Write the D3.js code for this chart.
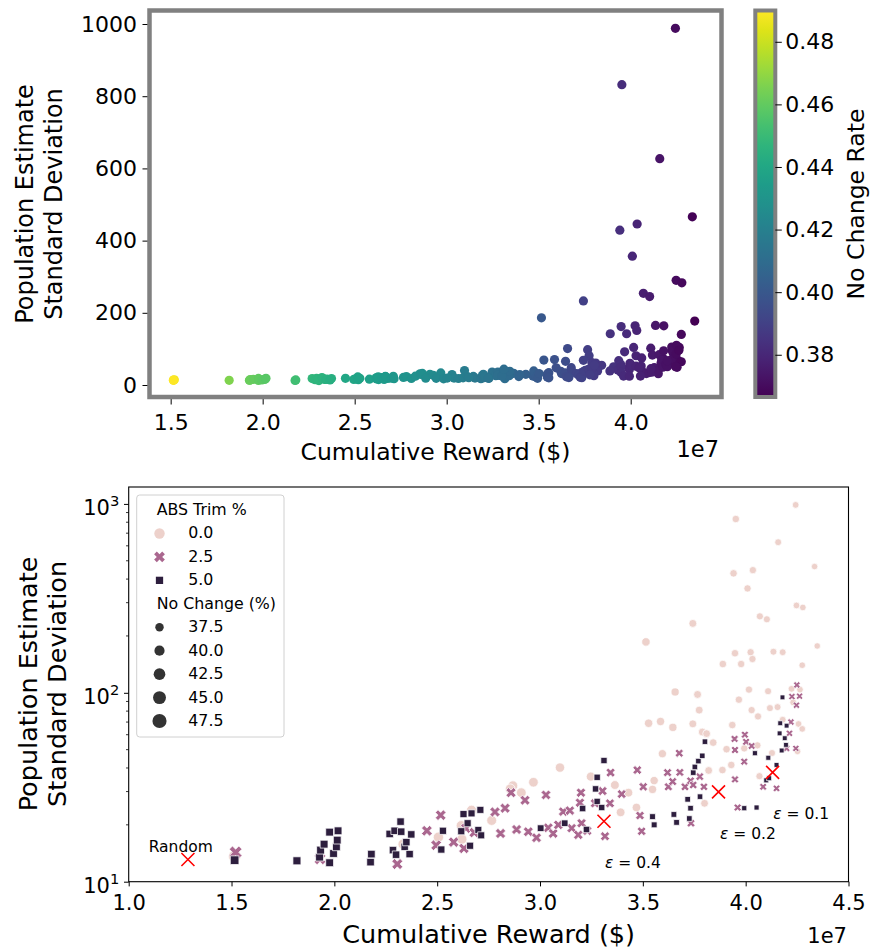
<!DOCTYPE html>
<html>
<head>
<meta charset="utf-8">
<script src="https://cdn.jsdelivr.net/npm/d3@7"></script>
<style>
  body { margin: 0; background: #fff; }
  svg { display: block; font-family: "DejaVu Sans", sans-serif; }
</style>
</head>
<body>
<div id="chart"></div>
<script>
// [cumulative reward (1e7 $), population estimate std, no change rate]
const trim0 = [
  [4.243, 988, 0.370], [3.952, 832, 0.382], [4.158, 627, 0.373], [4.335, 466, 0.367],
  [3.941, 429, 0.383], [4.035, 446, 0.379], [4.009, 357, 0.380], [4.247, 290, 0.370],
  [4.278, 283, 0.369], [4.069, 254, 0.377], [4.103, 245, 0.376], [3.743, 233, 0.390],
  [3.515, 186, 0.400], [4.348, 177, 0.3665], [3.948, 162, 0.382], [4.024, 164, 0.379],
  [4.135, 165, 0.374], [4.18, 164, 0.372], [3.889, 142, 0.384], [3.978, 142, 0.381],
  [4.033, 151, 0.379], [4.275, 140, 0.369], [3.657, 101, 0.394], [3.766, 98, 0.389],
  [4.016, 104, 0.380], [4.109, 102, 0.376], [3.967, 92, 0.381], [4.223, 105, 0.371],
  [4.264, 104, 0.369], [3.774, 81, 0.389], [4.029, 81, 0.379], [4.118, 83, 0.375],
  [4.155, 84, 0.374], [4.06, 75, 0.378], [4.231, 89, 0.371], [3.528, 69, 0.399],
  [3.586, 70.5, 0.397], [3.646, 65.6, 0.395], [3.743, 68.5, 0.390], [3.935, 67.5, 0.383],
  [3.789, 62, 0.388], [3.81, 60.8, 0.387], [3.842, 54.5, 0.386], [3.907, 50.3, 0.384],
  [3.93, 41.5, 0.383], [3.993, 50.8, 0.380], [4.057, 52.7, 0.378], [4.128, 48, 0.375],
  [4.067, 36.2, 0.377], [4.18, 72, 0.372], [4.257, 68.4, 0.370], [4.275, 64.4, 0.369],
  [4.252, 49, 0.370], [3.595, 47.6, 0.396], [3.555, 34.3, 0.398], [3.547, 30.8, 0.398],
  [3.469, 24.7, 0.402], [3.392, 23.3, 0.405], [3.43, 29.6, 0.404], [3.364, 32.5, 0.407],
  [3.80, 26, 0.388], [3.82, 38.8, 0.387], [3.887, 39, 0.384], [3.247, 36, 0.412],
  [3.097, 40.2, 0.418], [2.968, 33.6, 0.424], [2.909, 29.6, 0.426], [2.868, 32.2, 0.427],
  [2.855, 31, 0.428], [2.765, 21.1, 0.430], [2.667, 23.9, 0.433], [2.617, 19.8, 0.435],
  [2.62, 16.8, 0.435], [2.506, 17.2, 0.438], [2.335, 15.8, 0.445], [1.515, 13.6, 0.488]
];
const trim25 = [
  [1.52, 14.3, 0.488], [1.93, 13.2, 0.461], [2.306, 12.4, 0.446], [2.45, 18.6, 0.440],
  [2.495, 15.6, 0.439], [2.517, 22.5, 0.438], [2.58, 16.2, 0.436], [2.63, 15, 0.435],
  [2.64, 19.2, 0.434], [2.68, 18.2, 0.433], [2.781, 23.4, 0.430], [2.808, 18, 0.429],
  [2.83, 24.5, 0.428], [2.859, 29.6, 0.427], [2.886, 18.9, 0.426], [2.927, 27, 0.425],
  [2.943, 18.4, 0.424], [2.983, 17.1, 0.423], [3.029, 28.8, 0.421], [3.04, 19.3, 0.421],
  [3.064, 18, 0.420], [3.089, 20, 0.419], [3.113, 23.5, 0.418], [3.145, 23.8, 0.417],
  [3.154, 19.2, 0.416], [3.186, 17.7, 0.415], [3.194, 26.2, 0.415], [3.199, 29.6, 0.415],
  [3.202, 20.4, 0.414], [3.23, 18.6, 0.413], [3.267, 26, 0.412], [3.304, 30.2, 0.410],
  [3.316, 17.4, 0.410], [3.34, 26, 0.409], [3.343, 37.8, 0.409], [3.397, 29.1, 0.406],
  [3.473, 39, 0.403], [3.486, 22.4, 0.402], [3.494, 18.5, 0.401], [3.502, 31.8, 0.401],
  [3.62, 37.8, 0.396], [3.624, 31.8, 0.396], [3.645, 33.9, 0.395], [3.677, 47.9, 0.393],
  [3.68, 37.9, 0.393], [3.705, 31.8, 0.392], [3.732, 34.2, 0.391], [3.734, 20.4, 0.391],
  [3.745, 32.5, 0.390], [3.777, 36, 0.389], [3.797, 31.8, 0.388], [3.946, 57, 0.383],
  [3.948, 49.8, 0.382], [3.948, 34.8, 0.382], [3.961, 24.7, 0.381], [3.993, 43.2, 0.380],
  [3.996, 60, 0.380], [4.002, 55, 0.380], [4.029, 52.3, 0.379], [4.085, 31.8, 0.377],
  [4.15, 31.2, 0.374], [4.199, 50.8, 0.372], [4.213, 61, 0.371], [4.22, 70, 0.371],
  [4.225, 95.5, 0.371], [4.244, 50.8, 0.370], [4.247, 86, 0.370], [4.249, 110, 0.370],
  [4.262, 96, 0.369]
];
const trim5 = [
  [1.515, 13.0, 0.490], [1.818, 12.9, 0.466], [1.928, 13.5, 0.462], [1.933, 14.7, 0.462],
  [1.95, 15.8, 0.461], [1.977, 18.3, 0.460], [1.977, 12.6, 0.460], [1.996, 14.1, 0.459],
  [2.01, 15.3, 0.459], [2.014, 16.6, 0.458], [2.018, 18.6, 0.458], [2.176, 12.7, 0.452],
  [2.18, 14.0, 0.452], [2.269, 17.9, 0.448], [2.285, 14.7, 0.447], [2.293, 18.6, 0.447],
  [2.30, 13.9, 0.447], [2.322, 20.8, 0.446], [2.325, 18.4, 0.446], [2.342, 15.3, 0.445],
  [2.35, 16.2, 0.445], [2.366, 14.0, 0.444], [2.374, 17.8, 0.444], [2.52, 14.8, 0.438],
  [2.528, 18.6, 0.438], [2.617, 18.5, 0.435], [2.628, 22.8, 0.435], [2.648, 20.4, 0.434],
  [2.66, 15.5, 0.434], [2.667, 23, 0.433], [2.70, 18.8, 0.432], [2.71, 24, 0.432],
  [2.714, 17.6, 0.432], [3.003, 19.2, 0.422], [3.12, 20.4, 0.418], [3.207, 24.4, 0.415],
  [3.226, 18.9, 0.414], [3.27, 31, 0.412], [3.278, 35.7, 0.411], [3.278, 26.6, 0.411],
  [3.30, 24.7, 0.410], [3.311, 43.8, 0.410], [3.547, 22.1, 0.398], [3.555, 20, 0.398],
  [3.651, 22.7, 0.394], [3.664, 20.6, 0.394], [3.718, 27.3, 0.392], [3.726, 21.6, 0.391],
  [3.732, 24.5, 0.391], [3.745, 37.8, 0.390], [3.753, 40.5, 0.390], [3.77, 43.5, 0.389],
  [3.789, 46.4, 0.388], [3.778, 28.2, 0.389], [3.802, 55.1, 0.388], [3.993, 24.5, 0.380],
  [4.045, 47.9, 0.378], [4.053, 24.7, 0.378], [4.10, 34.4, 0.376], [4.114, 35.3, 0.376],
  [4.15, 41.5, 0.374], [4.165, 61, 0.373], [4.168, 69, 0.373], [4.175, 49.5, 0.373],
  [4.179, 94.6, 0.372], [4.19, 57.5, 0.372], [4.196, 53, 0.372], [4.199, 67, 0.372],
  [4.11, 45.3, 0.376]
];

const trimLevels = [0.0, 2.5, 5.0];
const sizeLevels = [37.5, 40.0, 42.5, 45.0, 47.5];
const refNames = ["Random", "ε = 0.4", "ε = 0.2", "ε = 0.1"];
const refPoints = [[1.288, 13.1], [3.311, 20.9], [3.868, 29.9], [4.131, 37.9]];
const refLabelAt = [[1.097, 14.4], [3.316, 11.82], [3.875, 16.8], [4.134, 21.4]];

const topXTicks = [1.5, 2.0, 2.5, 3.0, 3.5, 4.0];
const topYTicks = [0, 200, 400, 600, 800, 1000];
const cbarTicks = [0.38, 0.40, 0.42, 0.44, 0.46, 0.48];
const logXTicks = [1.0, 1.5, 2.0, 2.5, 3.0, 3.5, 4.0, 4.5];
const logYTicks = [10, 100, 1000];

const width = 872;
const height = 950;
const font = "DejaVu Sans";

const svg = d3
  .select("#chart")
  .append("svg")
  .attr("width", width)
  .attr("height", height);

const allPoints = [...trim0, ...trim25, ...trim5];
const rateExtent = d3.extent(allPoints, (d) => d[2]);
const viridis = d3.scaleSequential(d3.interpolateViridis).domain(rateExtent);

const styleAxis = (g, size) => {
  g.attr("font-size", size).attr("font-family", font);
  g.select(".domain").remove();
  g.selectAll(".tick line").attr("stroke", "#000").attr("stroke-width", 1);
  g.selectAll(".tick text").attr("fill", "#000");
};

// ---------- top panel: linear scatter coloured by no change rate
const xTop = d3.scaleLinear().domain([1.385, 4.4935]).range([149.5, 721.5]);
const yTop = d3.scaleLinear().domain([-33.2, 1037.4]).range([397, 10.5]);

svg
  .append("g")
  .selectAll("circle")
  .data(allPoints)
  .join("circle")
  .attr("cx", (d) => xTop(d[0]))
  .attr("cy", (d) => yTop(d[1]))
  .attr("r", 4.6)
  .attr("fill", (d) => viridis(d[2]));

svg
  .append("g")
  .attr("transform", "translate(0,397)")
  .call(
    d3.axisBottom(xTop).tickValues(topXTicks).tickFormat(d3.format(".1f")).tickSize(7.5).tickPadding(9.5)
  )
  .call((g) => styleAxis(g, 22));

svg
  .append("g")
  .attr("transform", "translate(149.5,0)")
  .call(d3.axisLeft(yTop).tickValues(topYTicks).tickFormat(d3.format("d")).tickSize(7).tickPadding(5.5))
  .call((g) => styleAxis(g, 22));

svg
  .append("rect")
  .attr("x", 149.5)
  .attr("y", 10.5)
  .attr("width", 572)
  .attr("height", 386.5)
  .attr("fill", "none")
  .attr("stroke", "#808080")
  .attr("stroke-width", 4.5);

svg
  .append("text")
  .attr("x", 435.5)
  .attr("y", 460)
  .attr("text-anchor", "middle")
  .attr("font-size", 23.5)
  .text("Cumulative Reward ($)");

svg
  .append("text")
  .attr("x", 719)
  .attr("y", 456.5)
  .attr("text-anchor", "end")
  .attr("font-size", 22.5)
  .text("1e7");

[["Population Estimate", 32.5], ["Standard Deviation", 61.5]].forEach(([t, x]) => {
  svg
    .append("text")
    .attr("transform", `translate(${x},204) rotate(-90)`)
    .attr("text-anchor", "middle")
    .attr("font-size", 24)
    .text(t);
});

// colorbar
const yBar = d3.scaleLinear().domain(rateExtent).range([397, 10.5]);
const grad = svg
  .append("defs")
  .append("linearGradient")
  .attr("id", "viridis")
  .attr("x1", 0)
  .attr("y1", 1)
  .attr("x2", 0)
  .attr("y2", 0);
grad
  .selectAll("stop")
  .data(d3.range(0, 1.0001, 0.05))
  .join("stop")
  .attr("offset", (t) => t)
  .attr("stop-color", (t) => d3.interpolateViridis(t));

svg
  .append("rect")
  .attr("x", 755.3)
  .attr("y", 10.5)
  .attr("width", 20)
  .attr("height", 386.5)
  .attr("fill", "url(#viridis)")
  .attr("stroke", "#808080")
  .attr("stroke-width", 4);

svg
  .append("g")
  .attr("transform", "translate(775.3,0)")
  .call(d3.axisRight(yBar).tickValues(cbarTicks).tickFormat(d3.format(".2f")).tickSize(6.5).tickPadding(3.5))
  .call((g) => styleAxis(g, 22));

svg
  .append("text")
  .attr("transform", "translate(864,204) rotate(-90)")
  .attr("text-anchor", "middle")
  .attr("font-size", 23.5)
  .text("No Change Rate");

// ---------- bottom panel: log scatter by trim level and size
const xLog = d3.scaleLinear().domain([1, 4.5]).range([128.7, 848.5]);
const yLog = d3.scaleLog().domain([10, 1229]).range([881.7, 487]);

const trimGroups = [trim0, trim25, trim5];
const trimColors = ["#edd1cb", "#aa678f", "#2d1e3e"];
const trimShapes = ["circle", "x", "square"];
const areaScale = d3.scaleLinear().domain(rateExtent).range([10.5, 38]);
const markerR = (rate) => Math.sqrt(areaScale(rate));

function markerPath(shape, r) {
  if (shape === "circle") {
    return `M${r},0A${r},${r} 0 1 1 ${-r},0A${r},${r} 0 1 1 ${r},0Z`;
  }
  if (shape === "square") {
    const h = 0.7 * r;
    return `M${-h},${-h}H${h}V${h}H${-h}Z`;
  }
  const a = 1.1 * r;
  const w = a / 3;
  const pts = [
    [-w, -a], [w, -a], [w, -w], [a, -w], [a, w], [w, w],
    [w, a], [-w, a], [-w, w], [-a, w], [-a, -w], [-w, -w]
  ].map(([x, y]) => [(x - y) / Math.SQRT2, (x + y) / Math.SQRT2]);
  return "M" + pts.map((p) => p.join(",")).join("L") + "Z";
}

trimGroups.forEach((group, i) => {
  svg
    .append("g")
    .selectAll("path")
    .data(group)
    .join("path")
    .attr("transform", (d) => `translate(${xLog(d[0])},${yLog(d[1])})`)
    .attr("d", (d) => markerPath(trimShapes[i], markerR(d[2])))
    .attr("fill", trimColors[i])
    .attr("stroke", "#fff")
    .attr("stroke-width", 0.75);
});

// reference policies
svg
  .append("g")
  .selectAll("path")
  .data(refPoints)
  .join("path")
  .attr("transform", (d) => `translate(${xLog(d[0])},${yLog(d[1])})`)
  .attr("d", "M-6.5,-6.5L6.5,6.5M-6.5,6.5L6.5,-6.5")
  .attr("stroke", "#ff0000")
  .attr("stroke-width", 1.6)
  .attr("fill", "none");

refNames.forEach((name, i) => {
  const t = svg
    .append("text")
    .attr("x", xLog(refLabelAt[i][0]))
    .attr("y", yLog(refLabelAt[i][1]))
    .attr("font-size", 15.5);
  if (name.startsWith("ε")) {
    t.append("tspan").attr("font-style", "italic").text("ε");
    t.append("tspan").text(name.slice(1));
  } else {
    t.text(name);
  }
});

// axes
svg
  .append("g")
  .attr("transform", "translate(0,881.7)")
  .call(d3.axisBottom(xLog).tickValues(logXTicks).tickFormat(d3.format(".1f")).tickSize(4.7).tickPadding(8.7))
  .call((g) => styleAxis(g, 21));

const yAxisG = svg
  .append("g")
  .attr("transform", "translate(128.7,0)")
  .call(d3.axisLeft(yLog).tickValues(logYTicks).tickFormat("").tickSize(4.7).tickPadding(4.7))
  .call((g) => styleAxis(g, 21));

yAxisG.selectAll(".tick text").each(function (d) {
  const t = d3.select(this).attr("dy", null).attr("x", -9.4);
  t.append("tspan").attr("dy", 11).text("10");
  t.append("tspan").attr("dy", -9).attr("font-size", 14.7).text(Math.round(Math.log10(d)));
});

svg
  .append("g")
  .selectAll("line")
  .data(yLog.ticks().filter((v) => !logYTicks.includes(v)))
  .join("line")
  .attr("x1", 128.7)
  .attr("x2", 128.7 - 2.7)
  .attr("y1", (d) => yLog(d))
  .attr("y2", (d) => yLog(d))
  .attr("stroke", "#000")
  .attr("stroke-width", 0.8);

svg
  .append("rect")
  .attr("x", 128.7)
  .attr("y", 487)
  .attr("width", 848.5 - 128.7)
  .attr("height", 881.7 - 487)
  .attr("fill", "none")
  .attr("stroke", "#000")
  .attr("stroke-width", 1.1);

svg
  .append("text")
  .attr("x", 488.6)
  .attr("y", 943)
  .attr("text-anchor", "middle")
  .attr("font-size", 25.5)
  .text("Cumulative Reward ($)");

svg
  .append("text")
  .attr("x", 847)
  .attr("y", 943)
  .attr("text-anchor", "end")
  .attr("font-size", 21)
  .text("1e7");

[["Population Estimate", 36.6], ["Standard Deviation", 65.8]].forEach(([t, x]) => {
  svg
    .append("text")
    .attr("transform", `translate(${x},684) rotate(-90)`)
    .attr("text-anchor", "middle")
    .attr("font-size", 25.5)
    .text(t);
});

// legend
const legend = svg.append("g").attr("font-size", 15.8);
legend
  .append("rect")
  .attr("x", 136.7)
  .attr("y", 495)
  .attr("width", 147.3)
  .attr("height", 242)
  .attr("rx", 3)
  .attr("fill", "#fff")
  .attr("fill-opacity", 0.8)
  .attr("stroke", "#d0d0d0")
  .attr("stroke-width", 1);

const rowY = (i) => 515 + i * 23.45;
legend.append("text").attr("x", 156.7).attr("y", rowY(0)).text("ABS Trim %");
trimLevels.forEach((lvl, i) => {
  legend
    .append("path")
    .attr("transform", `translate(159.5,${rowY(i + 1) - 5})`)
    .attr("d", markerPath(trimShapes[i], 5.2))
    .attr("fill", trimColors[i]);
  legend.append("text").attr("x", 188.3).attr("y", rowY(i + 1)).text(d3.format(".1f")(lvl));
});
legend.append("text").attr("x", 156.7).attr("y", rowY(4)).text("No Change (%)");
sizeLevels.forEach((lvl, i) => {
  legend
    .append("circle")
    .attr("cx", 159.5)
    .attr("cy", rowY(i + 5) - 5)
    .attr("r", 1.2 * markerR(lvl / 100))
    .attr("fill", "#333");
  legend.append("text").attr("x", 188.3).attr("y", rowY(i + 5)).text(d3.format(".1f")(lvl));
});
</script>
</body>
</html>
